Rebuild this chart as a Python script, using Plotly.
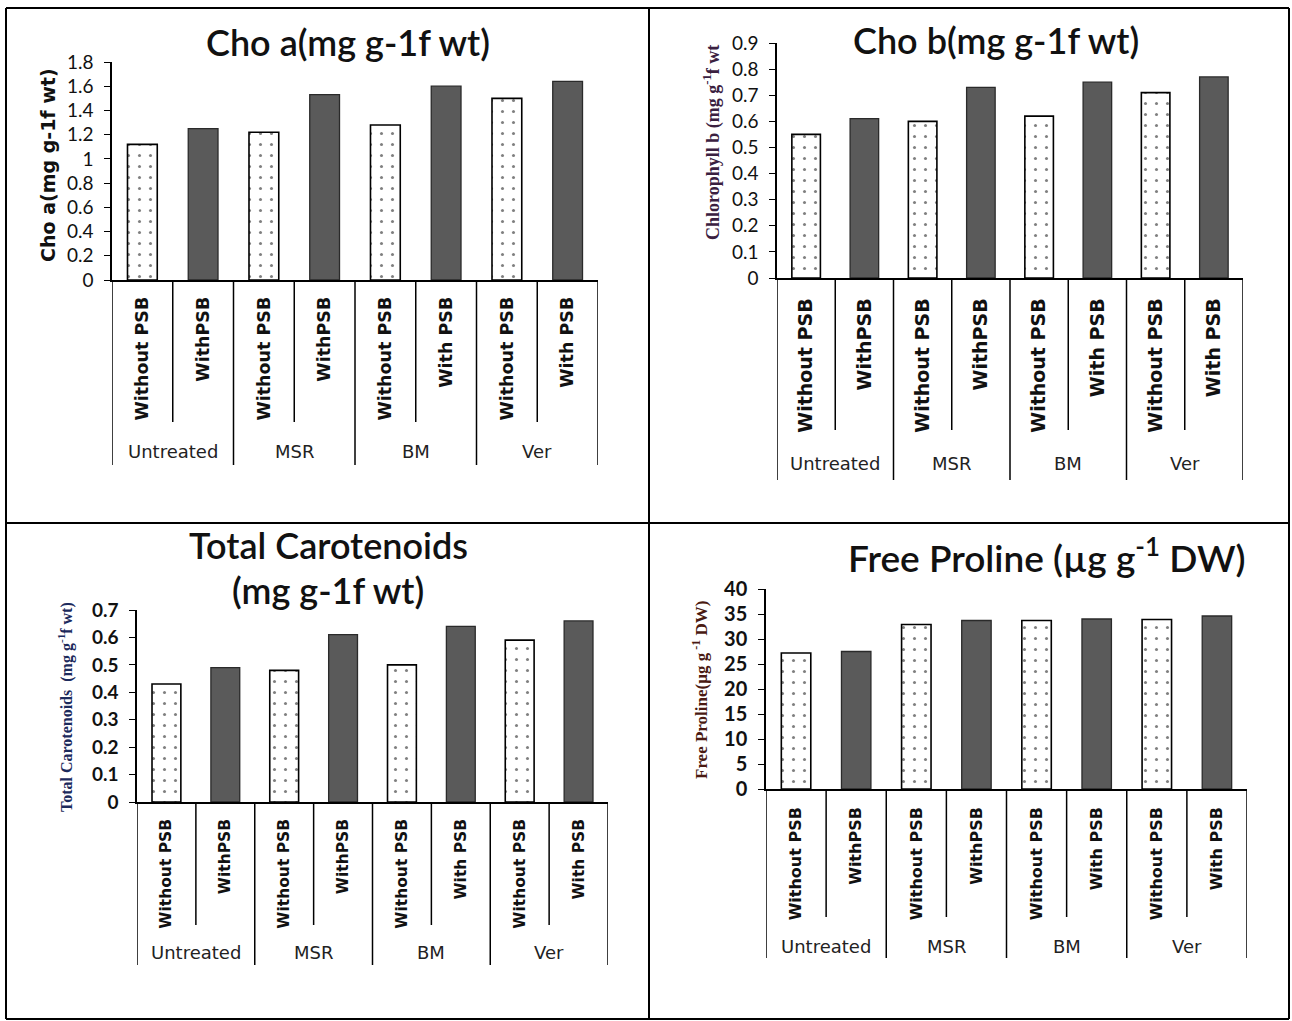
import plotly.graph_objects as go

# ---------------- data ----------------
groups = ["Untreated", "MSR", "BM", "Ver"]
bar_labels = ["Without PSB", "WithPSB", "Without PSB", "WithPSB",
              "Without PSB", "With PSB", "Without PSB", "With PSB"]

cho_a = [1.12, 1.25, 1.22, 1.53, 1.28, 1.60, 1.50, 1.64]
cho_b = [0.55, 0.61, 0.60, 0.73, 0.62, 0.75, 0.71, 0.77]
carotenoids = [0.43, 0.49, 0.48, 0.61, 0.50, 0.64, 0.59, 0.66]
proline = [27.2, 27.5, 32.9, 33.7, 33.7, 34.0, 33.9, 34.6]

titles = [["Cho a(mg g-1f wt)"], ["Cho b(mg g-1f wt)"],
          ["Total Carotenoids", "(mg g-1f wt)"], ["Free Proline (µg g<sup>-1</sup> DW)"]]
ytitles = ["Cho a(mg g-1f wt)", "Chlorophyll b (mg g<sup>-1</sup>f wt",
           "Total Carotenoids  (mg g<sup>-1</sup>f wt)", "Free Proline(µg g<sup> -1</sup> DW)"]
yranges = [(0, 1.8, 0.2), (0, 0.9, 0.1), (0, 0.7, 0.1), (0, 40, 5)]
series = [cho_a, cho_b, carotenoids, proline]

# ---------------- layout (pixels) ----------------
W, H = 1292, 1021
def PX(x): return x / W
def PY(y): return 1 - y / H

panels = [
    dict(x0=112, x1=598, ytop=62, ybot=280, inner=422, gend=465, gly=452,
         tx=348, ty=[42], ytx=48, yty=165, tfs=36, cfs=17.5, sto=8,
         yfont=dict(family="DejaVu Sans", size=19, color="#111", weight="bold"),
         tickfont=dict(family="Lato", size=19, color="#111")),
    dict(x0=777, x1=1243, ytop=43, ybot=278, inner=430, gend=480, gly=463,
         tx=996, ty=[40], ytx=712, yty=143, tfs=36, cfs=19, sto=11,
         yfont=dict(family="Liberation Serif", size=18, color="#3a2040", weight="bold"),
         tickfont=dict(family="Lato", size=19, color="#111")),
    dict(x0=137, x1=608, ytop=610, ybot=802, inner=925, gend=965, gly=952,
         tx=328, ty=[545, 590], ytx=65, yty=707, tfs=36, cfs=15.5, sto=9,
         yfont=dict(family="Liberation Serif", size=16, color="#1c2a5c", weight="bold"),
         tickfont=dict(family="Lato", size=19, color="#111", weight="bold")),
    dict(x0=766, x1=1247, ytop=589, ybot=789, inner=917, gend=958, gly=946,
         tx=1047, ty=[555], ytx=700, yty=690, tfs=37, cfs=16, sto=10,
         yfont=dict(family="Liberation Serif", size=17, color="#4a1a12", weight="bold"),
         tickfont=dict(family="Lato", size=20, color="#111", weight="bold")),
]

fig = go.Figure()
shapes = []
annotations = []

xs = list(range(len(bar_labels)))
for i, (p, vals) in enumerate(zip(panels, series)):
    n = "" if i == 0 else str(i + 1)
    xa, ya = "x" + n, "y" + n
    wo_x = [x for x in xs if x % 2 == 0]
    wi_x = [x for x in xs if x % 2 == 1]
    fig.add_trace(go.Bar(
        x=wo_x, y=[vals[k] for k in wo_x], xaxis=xa, yaxis=ya, width=0.49,
        marker=dict(color="white", line=dict(color="black", width=1.6),
                    pattern=dict(shape=".", fgcolor="black", bgcolor="white", size=11, solidity=0.06)),
        showlegend=False, hoverinfo="y"))
    fig.add_trace(go.Bar(
        x=wi_x, y=[vals[k] for k in wi_x], xaxis=xa, yaxis=ya, width=0.49,
        marker=dict(color="#5a5a5a", line=dict(color="#2a2a2a", width=1.3)),
        showlegend=False, hoverinfo="y"))

    lo, hi, dt = yranges[i]
    fig.update_layout(**{
        ("xaxis" + n): dict(domain=[PX(p["x0"]), PX(p["x1"])], anchor=ya, range=[-0.5, 7.5],
                            tickvals=xs, ticktext=bar_labels, tickangle=-90, ticks="",
                            ticklabelstandoff=p["sto"], automargin=False,
                            tickfont=dict(family="DejaVu Sans", size=p["cfs"], color="#111", weight="bold"),
                            showline=True, linecolor="black", linewidth=1.5, showgrid=False,
                            zeroline=False, fixedrange=True),
        ("yaxis" + n): dict(domain=[PY(p["ybot"]), PY(p["ytop"])], anchor=xa, range=[lo, hi],
                            tick0=0, dtick=dt, ticks="outside", ticklen=6, tickwidth=1.2,
                            tickcolor="black", ticklabelstandoff=7, tickfont=p["tickfont"],
                            automargin=False,
                            showline=True, linecolor="black", linewidth=1.5, showgrid=False,
                            zeroline=False, fixedrange=True),
    })

    # category box dividers
    for k in range(len(bar_labels) + 1):
        xv = k - 0.5
        yend = p["gend"] if k % 2 == 0 else p["inner"]
        shapes.append(dict(type="line", xref=xa, yref="paper", x0=xv, x1=xv,
                           y0=PY(p["ybot"]), y1=PY(yend), line=dict(color="black", width=1.5)))
    for g, name in enumerate(groups):
        annotations.append(dict(text=name, xref=xa, yref="paper", x=2 * g + 0.5, y=PY(p["gly"]),
                                showarrow=False, xanchor="center", yanchor="middle",
                                font=dict(family="DejaVu Sans", size=18, color="#222")))
    # title (one annotation per line)
    for line_text, ty in zip(titles[i], p["ty"]):
        annotations.append(dict(text=line_text, xref="paper", yref="paper", x=PX(p["tx"]), y=PY(ty),
                                showarrow=False, xanchor="center", yanchor="middle",
                                font=dict(family="Lato", size=p["tfs"], color="#111", weight=600)))
    # y title
    annotations.append(dict(text=ytitles[i], xref="paper", yref="paper", x=PX(p["ytx"]), y=PY(p["yty"]),
                            showarrow=False, xanchor="center", yanchor="middle", textangle=-90,
                            font=p["yfont"]))

# outer table grid
border = dict(color="black", width=2)
for (x0, y0, x1, y1) in [(6, 8, 1289, 8), (6, 1019, 1289, 1019), (6, 8, 6, 1019), (1289, 8, 1289, 1019),
                         (649, 8, 649, 1019), (6, 523, 1289, 523)]:
    shapes.append(dict(type="line", xref="paper", yref="paper", x0=PX(x0), x1=PX(x1),
                       y0=PY(y0), y1=PY(y1), line=border))

fig.update_layout(width=W, height=H, margin=dict(l=0, r=0, t=0, b=0, pad=0),
                  paper_bgcolor="white", plot_bgcolor="white",
                  shapes=shapes, annotations=annotations, bargap=0.5)

fig.write_html("out.html", config={"displayModeBar": False},
               post_script="document.body.style.margin='0';document.body.style.overflow='hidden';")
